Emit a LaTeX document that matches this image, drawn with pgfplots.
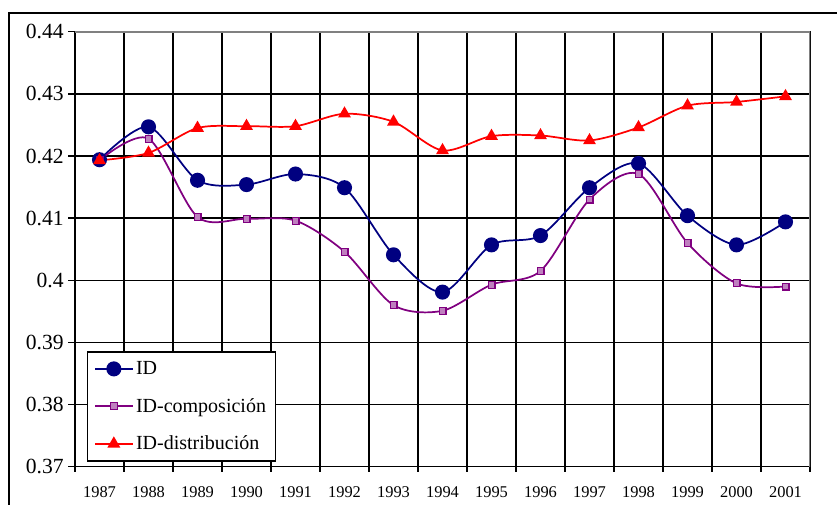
\documentclass[border=0pt]{standalone}
\usepackage{fontspec}
\setmainfont{Liberation Serif}
\usepackage{pgfplots}
\pgfplotsset{compat=1.18}
\usepackage{pgfplotstable}

\definecolor{idblue}{RGB}{0,0,128}
\definecolor{idpurple}{RGB}{128,0,128}
\definecolor{idred}{RGB}{255,0,0}

\pgfplotstableread{
x id comp dist
0  0.4194 0.4193 0.4193
1  0.4247 0.4228 0.4205
2  0.4161 0.4102 0.4245
3  0.4154 0.4099 0.4248
4  0.4171 0.4096 0.4248
5  0.4149 0.4046 0.4268
6  0.4041 0.3960 0.4255
7  0.3981 0.3951 0.4209
8  0.4057 0.3993 0.4232
9  0.4072 0.4015 0.4233
10 0.4149 0.4130 0.4225
11 0.4188 0.4171 0.4246
12 0.4104 0.4060 0.4281
13 0.4057 0.3995 0.4287
14 0.4094 0.3990 0.4296
}\datatable

\begin{document}
\begin{tikzpicture}
\useasboundingbox (0,0) rectangle (627.75pt,378.75pt);
\draw[line width=1.2pt] (6.75pt,-10pt) -- (6.75pt,369pt) -- (650pt,369pt);
\begin{axis}[
  at={(56.25pt,28.7pt)}, anchor=south west,
  scale only axis, width=551.25pt, height=326.25pt,
  xmin=-0.5, xmax=14.5, ymin=0.37, ymax=0.44,
  xtick={0,1,2,3,4,5,6,7,8,9,10,11,12,13,14},
  xticklabels={1987,1988,1989,1990,1991,1992,1993,1994,1995,1996,1997,1998,1999,2000,2001},
  minor xtick={-0.5,0.5,1.5,2.5,3.5,4.5,5.5,6.5,7.5,8.5,9.5,10.5,11.5,12.5,13.5,14.5},
  major x tick style={draw=none},
  ytick={0.37,0.38,0.39,0.40,0.41,0.42,0.43,0.44},
  yticklabels={0.37,0.38,0.39,0.4,0.41,0.42,0.43,0.44},
  xminorgrids, ymajorgrids,
  tick align=outside, tick pos=left,
  major tick length=5pt, minor tick length=3.75pt,
  every tick/.style={black, line width=1pt},
  grid style={black, line width=1.1pt},
  minor grid style={black, line width=1.1pt},
  axis line style={black, line width=1.1pt},
  yticklabel style={font=\fontsize{16.2}{18}\selectfont},
  xticklabel style={font=\fontsize{12.3}{14}\selectfont, yshift=-6.5pt},
  legend style={at={(0.0163,0.0115)}, anchor=south west, draw=black, line width=1pt,
    font=\fontsize{15}{17}\selectfont, row sep=12.3pt, inner xsep=5pt, inner ysep=5pt,
    cells={anchor=west}},
  legend image code/.code={
    \draw[mark repeat=2,mark phase=2,#1] plot coordinates {(0pt,0pt) (14pt,0pt) (28pt,0pt)};
  },
  legend cell align=left,
]
\addplot[idblue, line width=1.3pt, smooth, tension=0.5, mark=*, mark size=5pt,
  mark options={solid, fill=idblue}] table[x=x, y=id] {\datatable};
\addlegendentry{ID}
\addplot[idpurple, line width=1.3pt, smooth, tension=0.5, mark=square*, mark size=2.6pt,
  mark options={solid, fill=idpurple!50, draw=idpurple, line width=0.8pt}] table[x=x, y=comp] {\datatable};
\addlegendentry{ID-composición}
\addplot[idred, line width=1.3pt, smooth, tension=0.5, mark=triangle*, mark size=4.3pt,
  mark options={solid, fill=idred}] table[x=x, y=dist] {\datatable};
\addlegendentry{ID-distribución}
\draw[gray, line width=1.3pt] (rel axis cs:0,1) -- (rel axis cs:1,1) -- (rel axis cs:1,0);
\end{axis}
\end{tikzpicture}
\end{document}
